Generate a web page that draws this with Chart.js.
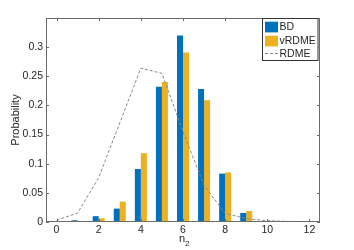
<!DOCTYPE html>
<html>
<head>
<meta charset="utf-8">
<script src="https://cdn.jsdelivr.net/npm/chart.js@4"></script>
<style>
  html, body { margin: 0; padding: 0; background: #fff; }
  #wrap { width: 354px; height: 250px; }
</style>
</head>
<body>
<div id="wrap"><canvas id="distChart" width="354" height="250"></canvas></div>
<script>
// data
const categories = ['0', '1', '2', '3', '4', '5', '6', '7', '8', '9', '10', '11', '12'];
const bdValues = [0, 0.003, 0.010, 0.023, 0.091, 0.232, 0.320, 0.228, 0.083, 0.0155, 0.0015, 0, 0];
const vrdmeValues = [0, 0.001, 0.0064, 0.035, 0.118, 0.240, 0.291, 0.209, 0.085, 0.019, 0.002, 0, 0.0007];
const rdmeValues = [0.003, 0.0155, 0.076, 0.17, 0.264, 0.255, 0.155, 0.063, 0.0145, 0.006, 0.002, 0.001, 0.0005];
const yTicks = [0, 0.05, 0.1, 0.15, 0.2, 0.25, 0.3];

const FONT = '"Liberation Sans", Arial, Helvetica, sans-serif';
const axisColor = '#6b6b6b';
const textColor = '#262626';

// box, inward ticks, axis titles and the legend, matlab style
const matlabAxes = {
    id: 'matlabAxes',
    afterDraw(chart) {
        const { ctx, chartArea: a, scales: { x, y } } = chart;
        ctx.save();
        ctx.strokeStyle = axisColor;
        ctx.lineWidth = 1;
        ctx.setLineDash([]);
        ctx.strokeRect(a.left + 0.5, a.top + 0.5, a.right - a.left - 1, a.bottom - a.top - 1);

        ctx.beginPath();
        categories.forEach((c, i) => {
            if (i % 2) return;
            const px = Math.round(x.getPixelForValue(i)) + 0.5;
            ctx.moveTo(px, a.bottom); ctx.lineTo(px, a.bottom - 3);
            ctx.moveTo(px, a.top); ctx.lineTo(px, a.top + 3);
        });
        yTicks.forEach(v => {
            const py = Math.round(y.getPixelForValue(v)) + 0.5;
            ctx.moveTo(a.left, py); ctx.lineTo(a.left + 3, py);
            ctx.moveTo(a.right, py); ctx.lineTo(a.right - 3, py);
        });
        ctx.stroke();

        // axis titles
        ctx.fillStyle = textColor;
        ctx.font = '11px ' + FONT;
        ctx.textAlign = 'center';
        ctx.textBaseline = 'middle';
        ctx.save();
        ctx.translate(15.5, (a.top + a.bottom) / 2);
        ctx.rotate(-Math.PI / 2);
        ctx.fillText('Probability', 0, 0);
        ctx.restore();

        const cx = (a.left + a.right) / 2;
        ctx.textAlign = 'left';
        ctx.textBaseline = 'alphabetic';
        ctx.font = '11px ' + FONT;
        const nw = ctx.measureText('n').width;
        ctx.fillText('n', cx - 4, 242);
        ctx.font = '8px ' + FONT;
        ctx.fillText('2', cx - 4 + nw, 246);

        // legend
        const lx = a.right - 58, lt = a.top + 0.5, lr = a.right - 1.5, lb = 60.5;
        ctx.fillStyle = '#fff';
        ctx.fillRect(lx, lt, lr - lx, lb - lt);
        ctx.strokeStyle = '#333';
        ctx.strokeRect(lx + 0.5, lt, lr - lx - 1, lb - lt);
        const rows = [27, 41, 54.5];
        ctx.font = '10.5px ' + FONT;
        ctx.textBaseline = 'middle';
        chart.data.datasets.forEach((ds, i) => {
            const cy = rows[i];
            if (ds.type === 'line') {
                ctx.strokeStyle = ds.borderColor;
                ctx.lineWidth = 1;
                ctx.setLineDash(ds.borderDash);
                ctx.beginPath();
                ctx.moveTo(lx + 3, cy - 1); ctx.lineTo(lx + 16, cy - 1);
                ctx.stroke();
                ctx.setLineDash([]);
            } else {
                ctx.fillStyle = ds.backgroundColor;
                ctx.fillRect(lx + 3, cy - 5.3, 13, 10.7);
            }
            ctx.fillStyle = textColor;
            ctx.fillText(ds.label, lx + 17.5, cy);
        });
        ctx.restore();
    }
};

const ctx = document.getElementById('distChart').getContext('2d');

const distChart = new Chart(ctx, {
    type: 'bar',
    data: {
        labels: categories,
        datasets: [{
            label: 'BD',
            data: bdValues,
            backgroundColor: '#0072BD',
            categoryPercentage: 0.57,
            barPercentage: 1.0,
            order: 2
        }, {
            label: 'vRDME',
            data: vrdmeValues,
            backgroundColor: '#EDB120',
            categoryPercentage: 0.57,
            barPercentage: 1.0,
            order: 2
        }, {
            type: 'line',
            label: 'RDME',
            data: rdmeValues,
            borderColor: '#8a8a8a',
            borderWidth: 1,
            borderDash: [3, 2],
            pointRadius: 0,
            fill: false,
            tension: 0,
            order: 1
        }]
    },
    options: {
        responsive: false,
        animation: false,
        layout: { padding: { top: 18, right: 34, left: 0, bottom: 0 } },
        plugins: {
            legend: { display: false },
            tooltip: { enabled: false }
        },
        scales: {
            x: {
                grid: { display: false, drawTicks: false },
                border: { display: false },
                ticks: {
                    autoSkip: false,
                    maxRotation: 0,
                    padding: 2,
                    color: textColor,
                    font: { family: FONT, size: 10.5 },
                    callback: (val, idx) => idx % 2 === 0 ? categories[idx] : ''
                },
                afterFit: s => { s.height = 28; }
            },
            y: {
                min: 0,
                max: 0.35,
                grid: { display: false, drawTicks: false },
                border: { display: false },
                ticks: {
                    stepSize: 0.05,
                    padding: 3,
                    color: textColor,
                    font: { family: FONT, size: 10.5 },
                    callback: v => {
                        const r = +v.toFixed(2);
                        return r > 0.3 ? '' : String(r);
                    }
                },
                afterFit: s => { s.width = 46; }
            }
        }
    },
    plugins: [matlabAxes]
});
</script>
</body>
</html>
